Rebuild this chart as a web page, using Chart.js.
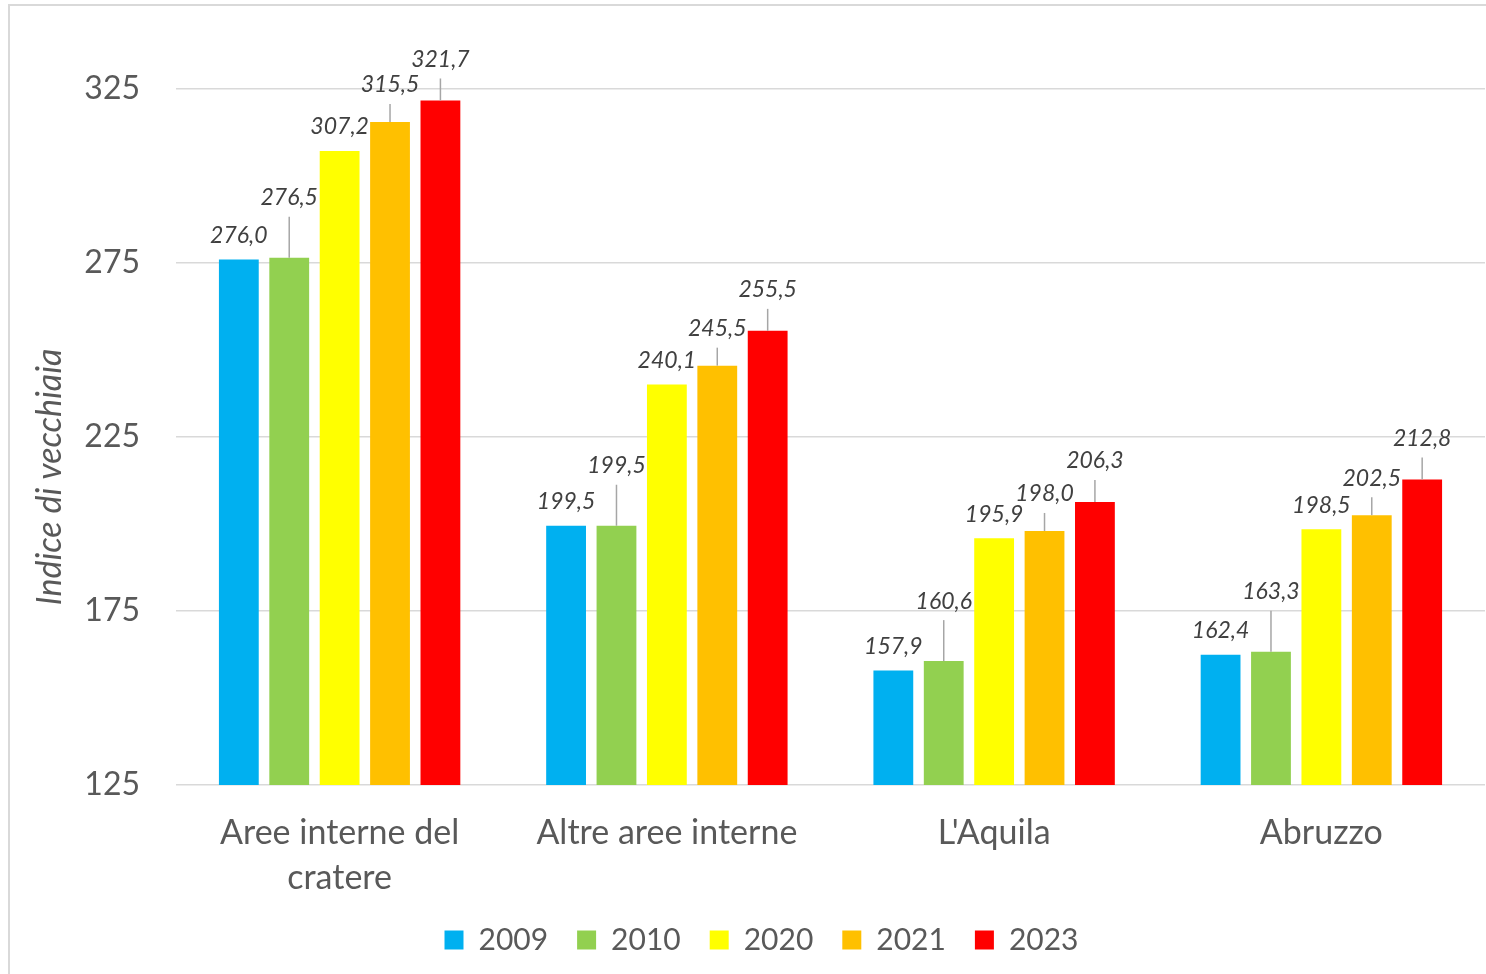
<!DOCTYPE html>
<html>
<head>
<meta charset="utf-8">
<script src="https://cdn.jsdelivr.net/npm/chart.js@4.4.1/dist/chart.umd.min.js"></script>
<style>
  html, body { margin: 0; padding: 0; background: #fff; overflow: hidden; }
  canvas { display: block; }
</style>
</head>
<body>
<canvas id="vecchiaia" width="1486" height="974"></canvas>
<script>
// Indice di vecchiaia per area
const categories = [['Aree interne del', 'cratere'], 'Altre aree interne', "L'Aquila", 'Abruzzo'];
const years = ['2009', '2010', '2020', '2021', '2023'];
const v2009 = [276.0, 199.5, 157.9, 162.4];
const v2010 = [276.5, 199.5, 160.6, 163.3];
const v2020 = [307.2, 240.1, 195.9, 198.5];
const v2021 = [315.5, 245.5, 198.0, 202.5];
const v2023 = [321.7, 255.5, 206.3, 212.8];
const yTicks = [125, 175, 225, 275, 325];

const colors = ['#00B0F0', '#92D050', '#FFFF00', '#FFC000', '#FF0000'];
// how far each series' value label sits above its bar (px)
const labelLift = [24, 60, 24, 37, 41];
const legendShift = 19;

const fmt = v => v.toFixed(1).replace('.', ',');

// light frame around the chart
const framePlugin = {
    id: 'frame',
    beforeDraw(chart) {
        const ctx = chart.ctx;
        ctx.save();
        ctx.strokeStyle = '#d9d9d9';
        ctx.lineWidth = 2;
        ctx.beginPath();
        ctx.moveTo(9, chart.height);
        ctx.lineTo(9, 5);
        ctx.lineTo(chart.width, 5);
        ctx.stroke();
        ctx.restore();
    }
};

// value labels, with leader lines where the label is lifted
const valuePlugin = {
    id: 'barValues',
    afterDatasetsDraw(chart) {
        const ctx = chart.ctx;
        ctx.save();
        ctx.font = 'italic 23px Lato';
        ctx.textAlign = 'center';
        ctx.textBaseline = 'middle';
        chart.data.datasets.forEach((ds, i) => {
            const meta = chart.getDatasetMeta(i);
            const lift = labelLift[i];
            meta.data.forEach((bar, j) => {
                const ty = bar.y - lift;
                if (lift > 30) {
                    ctx.strokeStyle = '#a6a6a6';
                    ctx.lineWidth = 1.5;
                    ctx.beginPath();
                    ctx.moveTo(bar.x, ty + 19);
                    ctx.lineTo(bar.x, bar.y);
                    ctx.stroke();
                }
                ctx.fillStyle = '#404040';
                ctx.fillText(fmt(ds.data[j]), bar.x, ty);
            });
        });
        ctx.restore();
    }
};

// rotated y axis title
const yTitlePlugin = {
    id: 'yTitle',
    afterDraw(chart) {
        const ctx = chart.ctx;
        ctx.save();
        ctx.translate(50, 477);
        ctx.rotate(-Math.PI / 2);
        ctx.font = 'italic 34px Lato';
        ctx.fillStyle = '#595959';
        ctx.textAlign = 'center';
        ctx.textBaseline = 'middle';
        ctx.fillText('Indice di vecchiaia', 0, 0);
        ctx.restore();
    }
};

// nudge the legend sideways
const legendPlugin = {
    id: 'legendShift',
    afterLayout(chart) {
        chart.legend.left += legendShift;
        chart.legend.right += legendShift;
    }
};

const seriesValues = [v2009, v2010, v2020, v2021, v2023];

new Chart(document.getElementById('vecchiaia'), {
    type: 'bar',
    data: {
        labels: categories,
        datasets: years.map((y, i) => ({
            label: y,
            data: seriesValues[i],
            backgroundColor: colors[i],
            borderWidth: 0,
            categoryPercentage: 0.77,
            barPercentage: 0.79
        }))
    },
    options: {
        responsive: false,
        devicePixelRatio: 1,
        animation: false,
        layout: { padding: { top: 89, right: 1, left: 0, bottom: 9 } },
        plugins: {
            tooltip: { enabled: false },
            legend: {
                position: 'bottom',
                labels: {
                    font: { family: 'Lato', size: 30 },
                    color: '#595959',
                    boxWidth: 19,
                    boxHeight: 19,
                    padding: 29
                }
            }
        },
        scales: {
            x: {
                grid: { display: false },
                border: { display: false },
                ticks: {
                    font: { family: 'Lato', size: 34, lineHeight: 1.32 },
                    color: '#595959',
                    padding: 18,
                    maxRotation: 0,
                    autoSkip: false
                },
                afterFit: scale => { scale.height = 111; }
            },
            y: {
                min: 125,
                max: 325,
                afterBuildTicks: scale => { scale.ticks = yTicks.map(v => ({ value: v })); },
                grid: { color: '#d9d9d9', lineWidth: 1.5, drawTicks: false },
                border: { display: false },
                ticks: {
                    font: { family: 'Lato', size: 32 },
                    color: '#595959',
                    padding: 36
                },
                afterFit: scale => { scale.width = 176; }
            }
        }
    },
    plugins: [framePlugin, valuePlugin, yTitlePlugin, legendPlugin]
});
</script>
</body>
</html>
